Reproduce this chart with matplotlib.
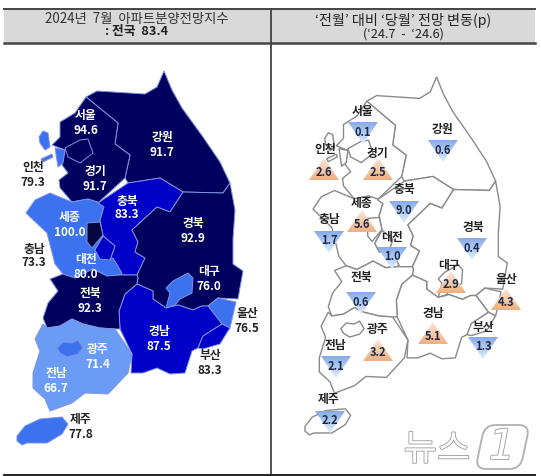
import matplotlib
matplotlib.use("Agg")
import matplotlib.pyplot as plt
import matplotlib.patheffects as pe
from matplotlib.patches import Polygon, Rectangle, FancyBboxPatch
from matplotlib.transforms import Affine2D
import numpy as np

plt.rcParams['font.family'] = ['Noto Sans CJK KR', 'DejaVu Sans']

# region outlines in picture pixels
gangwon = [(86,97),(97,91),(145,94),(157,87),(164,71),(172,90),(182,108),(203,137),(220,162),(230,183),(223,193),(183,192),(160,178),(128,183),(125,178),(130,155),(115,144),(118,123)]
gyeonggi = [(86,97),(118,123),(115,144),(130,155),(125,178),(98,203),(88,199),(72,202),(60,188),(59,180),(68,173),(62,165),(65,150),(52,145),(60,137),(60,122),(75,113)]
seoul = [(65,148),(80,140),(88,139),(93,153),(80,163),(68,157)]
incheon_a = [(39,137),(43,131),(48,133),(50,147),(45,150),(40,143)]
incheon_b = [(55,148),(65,150),(63,163),(58,167)]
incheon_c = [(41,159),(52,154),(53,157),(43,162)]
chungnam = [(26,213),(35,200),(50,193),(72,202),(88,199),(98,202),(104,207),(100,220),(103,235),(95,250),(100,259),(113,258),(122,273),(120,275),(107,276),(93,269),(75,278),(63,274),(55,264),(47,233)]
sejong = [(87,223),(100,222),(103,235),(92,248),(87,242)]
daejeon = [(95,250),(103,236),(115,246),(110,260),(100,259)]
chungbuk = [(98,203),(128,183),(160,178),(183,192),(170,212),(157,207),(132,230),(138,242),(135,252),(145,258),(137,275),(120,275),(122,273),(113,258),(110,260),(115,246),(103,236),(100,220),(104,207)]
gyeongbuk = [(223,193),(230,183),(235,210),(233,239),(233,264),(243,271),(238,299),(218,298),(208,306),(202,306),(193,310),(178,305),(166,308),(153,299),(153,291),(137,284),(138,278),(137,275),(145,258),(135,252),(138,242),(132,230),(157,207),(170,212),(183,192)]
daegu = [(166,288),(173,281),(188,273),(193,278),(192,293),(180,299),(175,305),(166,308),(170,293)]
ulsan = [(208,306),(218,298),(236,302),(230,328),(222,324)]
gyeongnam = [(137,284),(153,291),(153,299),(166,308),(178,305),(193,310),(202,306),(208,306),(222,324),(203,336),(198,348),(192,351),(185,373),(170,374),(157,368),(143,373),(131,373),(132,354),(120,329),(119,311),(125,294)]
busan = [(222,324),(230,328),(228,331),(220,344),(203,349),(198,348),(203,336)]
jeonbuk = [(50,279),(63,274),(75,278),(93,269),(107,276),(120,275),(137,275),(138,278),(137,284),(125,294),(119,311),(120,329),(115,329),(100,328),(83,324),(72,319),(60,326),(47,328),(43,318),(48,303),(58,291)]
jeonnam = [(43,324),(47,328),(60,326),(72,319),(83,324),(100,328),(115,329),(132,354),(128,373),(108,394),(85,393),(72,403),(50,411),(45,399),(33,388),(33,373),(40,351),(35,339)]
gwangju = [(57,348),(63,342),(72,343),(78,340),(83,348),(78,354),(67,357),(60,353)]
jeju = [(17,436),(25,426),(40,419),(62,417),(68,424),(62,434),(47,443),(27,443),(22,445),(17,441)]

# name, index value, outlines, drawn in this order
region_names = ['강원', '경기', '서울', '인천', '충남', '충북', '세종', '대전', '경북', '대구', '울산', '경남', '부산', '전북', '전남', '광주', '제주']
region_values = [91.7, 91.7, 94.6, 79.3, 73.3, 83.3, 100.0, 80.0, 92.9, 76.0, 76.5, 87.5, 83.3, 92.3, 66.7, 71.4, 77.8]
region_shapes = [[gangwon], [gyeonggi], [seoul], [incheon_a, incheon_b, incheon_c], [chungnam], [chungbuk], [sejong], [daejeon],
                 [gyeongbuk], [daegu], [ulsan], [gyeongnam], [busan], [jeonbuk], [jeonnam], [gwangju], [jeju]]

# left map labels: name, value text, x, name y, value y, colour
left_labels = [
    ('서울', '94.6', 86, 116, 131, 'w'), ('강원', '91.7', 162, 137, 152, 'w'), ('인천', '79.3', 33, 167, 182, '#222222'),
    ('경기', '91.7', 95, 172, 186, 'w'), ('충북', '83.3', 127, 201, 215, 'w'), ('세종', '100.0', 70, 218, 232, 'w'),
    ('충남', '73.3', 34, 249, 263, '#222222'), ('대전', '80.0', 86, 260, 274, 'w'), ('경북', '92.9', 193, 224, 239, 'w'),
    ('대구', '76.0', 209, 271, 286, 'w'), ('전북', '92.3', 90, 294, 309, 'w'), ('울산', '76.5', 247, 313, 328, '#222222'),
    ('경남', '87.5', 159, 332, 346, 'w'), ('부산', '83.3', 210, 355, 370, '#222222'), ('광주', '71.4', 98, 350, 365, 'w'),
    ('전남', '66.7', 56, 374, 389, 'w'), ('제주', '77.8', 81, 420, 434, '#222222'),
]

# right map: name, change, name x/y, triangle x, triangle top y, direction
change_names = ['서울', '강원', '인천', '경기', '충북', '세종', '충남', '대전', '경북', '대구', '울산', '전북', '경남', '부산', '광주', '전남', '제주']
change_values = [0.1, 0.6, 2.6, 2.5, 9.0, 5.6, 1.7, 1.0, 0.4, 2.9, 4.3, 0.6, 5.1, 1.3, 3.2, 2.1, 2.2]
change_up = [False, False, True, True, False, True, False, False, False, True, True, False, True, False, True, False, False]
change_name_x = [363, 443, 325, 377, 404, 362, 329, 392, 473, 449, 506, 361, 433, 483, 378, 335, 329]
change_name_y = [112, 130, 149, 153, 190, 203, 220, 237, 227, 265, 280, 278, 313, 327, 330, 345, 400]
change_tri_x = [363, 443, 324, 378, 404, 362, 329, 392, 472, 451, 506, 361, 433, 483, 378, 336, 330]
change_tri_y = [122, 140, 158, 158, 201, 210, 231, 247, 238, 271, 288, 292, 322, 337, 339, 356, 411]


def tier_colour(v):
    if v >= 100:
        return '#05053F'
    if v >= 90:
        return '#00005F'
    if v >= 80:
        return '#0000C8'
    if v >= 70:
        return '#3C72F0'
    return '#6A9CF6'


fig = plt.figure(figsize=(5.41, 4.76), dpi=100)
ax = fig.add_axes([0, 0, 1, 1])

# header bands and rules
ax.add_patch(Rectangle((4, 9), 531, 34, fc='#D9D9D9', ec='none', zorder=1))
ax.plot([4, 535], [9, 9], color='#444444', lw=1.4, zorder=2)
ax.plot([4, 535], [43, 43], color='#444444', lw=1.8, zorder=2)
ax.plot([271, 271], [9, 475], color='#444444', lw=1.3, zorder=2)
ax.plot([4, 535], [475, 475], color='#222222', lw=1.4, zorder=2)

ax.text(137, 19, '2024년  7월  아파트분양전망지수', ha='center', va='center', fontsize=9.6, color='#333333')
ax.text(137, 32, ': 전국  83.4', ha='center', va='center', fontsize=9.2, color='#222222', fontweight='bold')
ax.text(403, 20, '‘전월’ 대비 ‘당월’ 전망 변동(p)', ha='center', va='center', fontsize=10.2, color='#222222', fontweight='medium')
ax.text(403, 34, '(‘24.7  -  ‘24.6)', ha='center', va='center', fontsize=9.2, color='#222222', fontweight='medium')

# left map, filled by index tier
for name, value, shapes in zip(region_names, region_values, region_shapes):
    for pts in shapes:
        ax.add_patch(Polygon(pts, closed=True, fc=tier_colour(value), ec='#7F93E2', lw=0.7, zorder=3))

for name, val, x, y1, y2, col in left_labels:
    ax.text(x, y1, name, ha='center', va='center', fontsize=8.5, fontweight='bold', color=col, zorder=5)
    ax.text(x, y2, val, ha='center', va='center', fontsize=8.5, fontweight='bold', color=col, zorder=5)

# right map is the same outlines squeezed into the right panel
right_base = Affine2D().translate(-17, -71).scale(0.895, 0.93).translate(305, 77)
right_shift = {'제주': 10, '광주': -6}
for name, shapes in zip(region_names, region_shapes):
    tr = right_base + Affine2D().translate(0, right_shift.get(name, 0)) + ax.transData
    for pts in shapes:
        ax.add_patch(Polygon(pts, closed=True, fc='white', ec='#8A8A8A', lw=1.0, zorder=3, transform=tr))

# triangles with a soft vertical fade
tri_w, tri_h = 30, 22
fade_down = np.linspace(0, 1, 32).reshape(-1, 1)
blue_a, blue_b = np.array([0.53, 0.67, 0.91]), np.array([0.88, 0.93, 0.99])
orange_a, orange_b = np.array([0.98, 0.91, 0.85]), np.array([0.94, 0.69, 0.50])
for i, value in enumerate(change_values):
    x, top, up = change_tri_x[i], change_tri_y[i], change_up[i]
    if up:
        pts = [(x, top), (x - tri_w / 2, top + tri_h), (x + tri_w / 2, top + tri_h)]
        a, b = orange_a, orange_b
    else:
        pts = [(x - tri_w / 2, top), (x + tri_w / 2, top), (x, top + tri_h)]
        a, b = blue_a, blue_b
    img = (a + (b - a) * fade_down)[:, None, :].reshape(32, 1, 3)
    im = ax.imshow(img, extent=(x - tri_w / 2, x + tri_w / 2, top + tri_h, top), aspect='auto', zorder=4)
    clip = Polygon(pts, closed=True, fc='none', ec='none', transform=ax.transData)
    ax.add_patch(clip)
    im.set_clip_path(clip)
    ax.text(x, top + (14 if up else 10), '%.1f' % value, ha='center', va='center', fontsize=8,
            fontweight='bold', color='#1B2A4A', zorder=5)

for name, x, y in zip(change_names, change_name_x, change_name_y):
    ax.text(x, y, name, ha='center', va='center', fontsize=8.5, fontweight='bold', color='#222222', zorder=5)

# watermark
outline = [pe.withStroke(linewidth=1.2, foreground='#9A9A9A')]
ax.text(437, 450, '뉴스', ha='center', va='center', fontsize=26, color='white', path_effects=outline, zorder=6)
skew = Affine2D().translate(-502, -447).skew_deg(-12, 0).translate(502, 447) + ax.transData
ax.add_patch(FancyBboxPatch((480, 425), 45, 44, boxstyle='round,pad=0,rounding_size=11', fc='white', ec='#B5B5B5',
                            lw=1.4, transform=skew, zorder=6))
ax.text(502, 447, '1', ha='center', va='center', fontsize=30, style='italic', color='white',
        path_effects=outline, zorder=7, family='DejaVu Sans')

ax.set_xlim(0, 541)
ax.set_ylim(476, 0)
ax.axis('off')

fig.savefig('out.png', dpi=100)
